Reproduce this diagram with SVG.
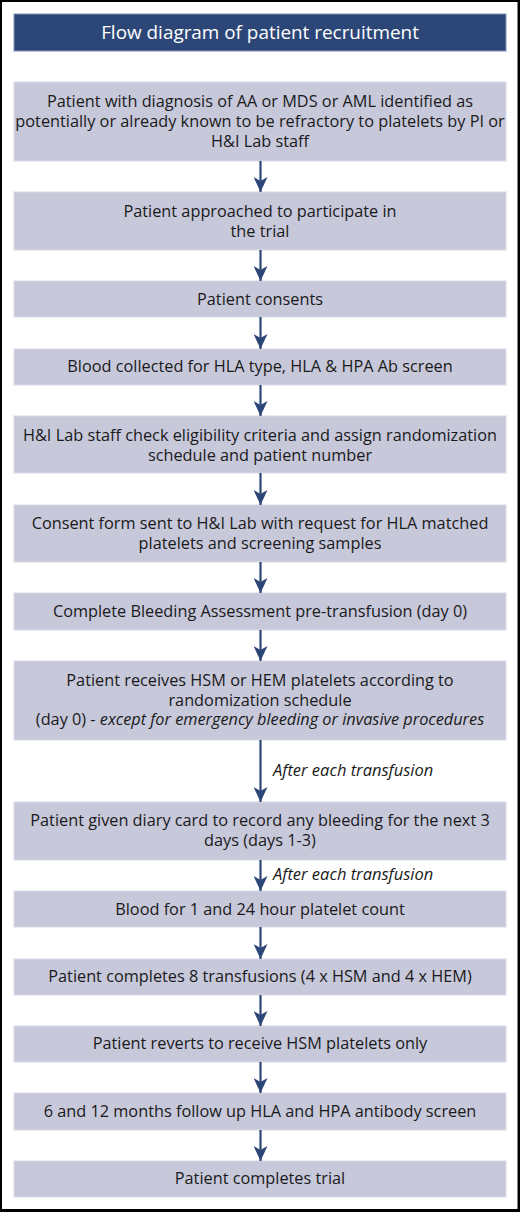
<svg xmlns="http://www.w3.org/2000/svg" width="520" height="1212" viewBox="0 0 520 1212">
<style>
.box{fill:#c7c8da;stroke:#d9dae6;stroke-width:1}
.t{font-family:"Open Sans","Liberation Sans",sans-serif;font-size:16.3px;fill:#1a1a1a;text-anchor:middle}
.ti{font-family:"Open Sans","Liberation Sans",sans-serif;font-size:18.9px;fill:#ffffff;text-anchor:middle}
.lbl{font-family:"Open Sans","Liberation Sans",sans-serif;font-size:16.5px;font-style:italic;fill:#1a1a1a}
.c line{stroke:#2c4777;stroke-width:2.2;marker-end:url(#ah)}
</style>
<defs>
<marker id="ah" markerUnits="userSpaceOnUse" viewBox="0 0 15 14" refX="15" refY="7" markerWidth="15" markerHeight="14" orient="auto">
<path d="M0,0 L15,7 L0,14 L4,7 Z" fill="#2c4777"/>
</marker>
</defs>
<rect x="0" y="0" width="520" height="1212" fill="#000000"/>
<rect x="2" y="2" width="515.5" height="1207" fill="#ffffff"/>
<g id="title">
<rect x="14" y="14" width="492" height="37" fill="#2c4777" stroke="#7f92b3" stroke-width="1"/>
<text class="ti" x="260" y="39">Flow diagram of patient recruitment</text>
</g>
<g id="n1"><rect class="box" x="14" y="82" width="492" height="79"/>
<text class="t" x="260" y="107">Patient with diagnosis of AA or MDS or AML identified as<tspan x="260" y="127">potentially or already known to be refractory to platelets by PI or</tspan><tspan x="260" y="147">H&amp;I Lab staff</tspan></text></g>
<g id="n2"><rect class="box" x="14" y="192" width="492" height="58"/>
<text class="t" x="260" y="217">Patient approached to participate in<tspan x="260" y="236.5">the trial</tspan></text></g>
<g id="n3"><rect class="box" x="14" y="281" width="492" height="36"/>
<text class="t" x="260" y="304.5">Patient consents</text></g>
<g id="n4"><rect class="box" x="14" y="349" width="492" height="36"/>
<text class="t" x="260" y="372">Blood collected for HLA type, HLA &amp; HPA Ab screen</text></g>
<g id="n5"><rect class="box" x="14" y="416" width="492" height="57"/>
<text class="t" x="260" y="441">H&amp;I Lab staff check eligibility criteria and assign randomization<tspan x="260" y="460.5">schedule and patient number</tspan></text></g>
<g id="n6"><rect class="box" x="14" y="505" width="492" height="57"/>
<text class="t" x="260" y="529">Consent form sent to H&amp;I Lab with request for HLA matched<tspan x="260" y="549">platelets and screening samples</tspan></text></g>
<g id="n7"><rect class="box" x="14" y="593" width="492" height="37"/>
<text class="t" x="260" y="617">Complete Bleeding Assessment pre-transfusion (day 0)</text></g>
<g id="n8"><rect class="box" x="14" y="661" width="492" height="79"/>
<text class="t" x="260" y="686">Patient receives HSM or HEM platelets according to<tspan x="260" y="705.5">randomization schedule</tspan><tspan x="260" y="725">(day 0) - <tspan font-style="italic">except for emergency bleeding or invasive procedures</tspan></tspan></text></g>
<g id="n9"><rect class="box" x="14" y="802" width="492" height="58"/>
<text class="t" x="260" y="826">Patient given diary card to record any bleeding for the next 3<tspan x="260" y="846">days (days 1-3)</tspan></text></g>
<g id="n10"><rect class="box" x="14" y="891" width="492" height="36"/>
<text class="t" x="260" y="914.5">Blood for 1 and 24 hour platelet count</text></g>
<g id="n11"><rect class="box" x="14" y="959" width="492" height="36"/>
<text class="t" x="260" y="982">Patient completes 8 transfusions (4 x HSM and 4 x HEM)</text></g>
<g id="n12"><rect class="box" x="14" y="1026" width="492" height="36"/>
<text class="t" x="260" y="1049">Patient reverts to receive HSM platelets only</text></g>
<g id="n13"><rect class="box" x="14" y="1093" width="492" height="37"/>
<text class="t" x="260" y="1117">6 and 12 months follow up HLA and HPA antibody screen</text></g>
<g id="n14"><rect class="box" x="14" y="1161" width="492" height="36"/>
<text class="t" x="260" y="1184">Patient completes trial</text></g>
<g id="connectors" class="c">
<line x1="260.5" y1="161" x2="260.5" y2="192"/>
<line x1="260.5" y1="250" x2="260.5" y2="281"/>
<line x1="260.5" y1="317" x2="260.5" y2="349"/>
<line x1="260.5" y1="385" x2="260.5" y2="416"/>
<line x1="260.5" y1="473" x2="260.5" y2="505"/>
<line x1="260.5" y1="562" x2="260.5" y2="593"/>
<line x1="260.5" y1="630" x2="260.5" y2="661"/>
<line x1="260.5" y1="740" x2="260.5" y2="802"/>
<line x1="260.5" y1="860" x2="260.5" y2="891"/>
<line x1="260.5" y1="927" x2="260.5" y2="959"/>
<line x1="260.5" y1="995" x2="260.5" y2="1026"/>
<line x1="260.5" y1="1062" x2="260.5" y2="1093"/>
<line x1="260.5" y1="1130" x2="260.5" y2="1161"/>
<text class="lbl" x="273" y="776">After each transfusion</text>
<text class="lbl" x="273" y="880">After each transfusion</text>
</g>
</svg>
